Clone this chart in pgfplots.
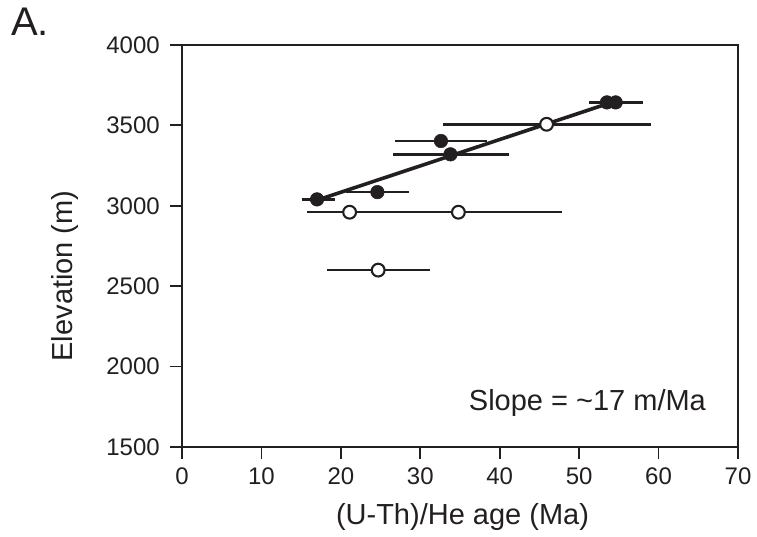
\documentclass[border=0pt]{standalone}
\usepackage{pgfplots}
\pgfplotsset{compat=1.18}
\usepackage{fontspec}
\setmainfont{Liberation Sans}
\definecolor{ink}{HTML}{231F20}
\pgfplotstableread{
x y em ep
17.0 3040 1.9 2.3
24.6 3085 3.9 4.0
32.6 3403 5.8 5.8
33.8 3320 7.2 7.4
53.5 3643 2.3 2.3
54.6 3643 2.2 3.5
}\filled
\pgfplotstableread{
x y em ep
45.9 3507 13.1 13.1
21.1 2960 5.3 5.3
34.8 2960 13.0 13.0
24.7 2600 6.4 6.5
}\open
\begin{document}
\begin{tikzpicture}
\path[use as bounding box] (-182pt,-90pt) rectangle (575pt,447pt);
\begin{axis}[at={(0pt,0pt)}, anchor=south west, scale only axis,
  width=556pt, height=402pt,
  xmin=0, xmax=70, ymin=1500, ymax=4000,
  xtick={0,10,...,70}, ytick={1500,2000,...,4000},
  tick align=outside, tick pos=left,
  major tick length=12pt,
  tick style={line width=1.8pt, ink},
  axis line style={line width=1.8pt, ink},
  /pgf/number format/assume math mode=true,
  /pgf/number format/1000 sep={},
  tick label style={font=\fontsize{24}{28}\selectfont, text=ink},
  yticklabel style={inner sep=0pt, anchor=east, xshift=-10pt},
  xticklabel style={inner sep=0pt, anchor=north, yshift=-9pt},
  label style={font=\fontsize{29}{33}\selectfont, text=ink},
  xlabel={(U-Th)/He age (Ma)},
  ylabel={Elevation (m)},
  xlabel style={at={(axis description cs:0.5045,-0.194)}, anchor=base},
  ylabel style={at={(axis description cs:-0.1978,0.4254)}, anchor=base},
  clip=false]
\addplot[line width=3.6pt, ink] coordinates {(17.0,3035) (54.2,3645)};
\addplot[only marks, ink, line width=2.5pt, mark=*, mark size=6.4pt,
  mark options={line width=2.1pt, fill=white, draw=ink},
  error bars/.cd, x dir=both, x explicit, error mark=none,
  error bar style={line width=2.5pt, ink}]
  table[x=x, y=y, x error plus=ep, x error minus=em] {\open};
\addplot[only marks, ink, line width=2.5pt, mark=*, mark size=6.8pt,
  mark options={line width=0.5pt, fill=ink, draw=ink},
  error bars/.cd, x dir=both, x explicit, error mark=none,
  error bar style={line width=2.5pt, ink}]
  table[x=x, y=y, x error plus=ep, x error minus=em] {\filled};
\node[anchor=base west, inner sep=0pt, font=\fontsize{29}{33}\selectfont, text=ink]
  at (axis cs:36.1,1724) {Slope = \textasciitilde17 m/Ma};
\end{axis}
\node[anchor=base west, inner sep=0pt, font=\fontsize{40}{44}\selectfont, text=ink]
  at (-171pt,411pt) {A.};
\end{tikzpicture}
\end{document}
